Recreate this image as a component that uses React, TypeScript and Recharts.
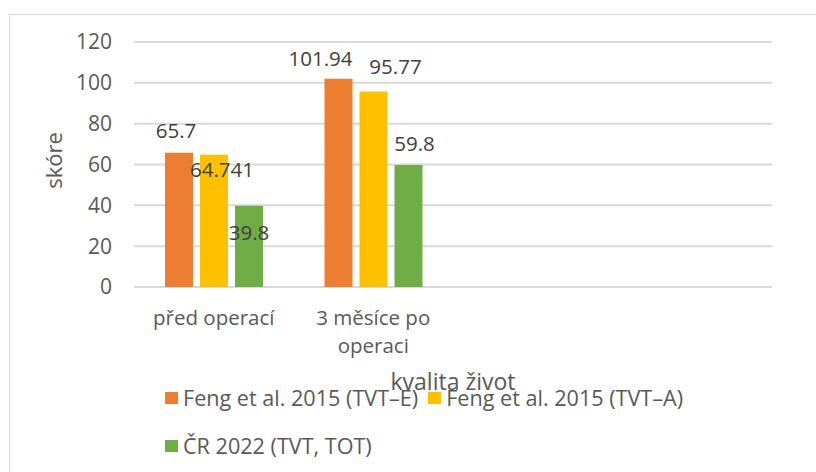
import { BarChart, Bar, XAxis, YAxis, CartesianGrid, LabelList } from 'recharts';

const categories = ['před operací', '3 měsíce po operaci', '', ''];
const tvtE = [65.7, 101.94, null, null];
const tvtA = [64.741, 95.77, null, null];
const cr2022 = [39.8, 59.8, null, null];
const yTicks = [0, 20, 40, 60, 80, 100, 120];

const series = [
  { key: 'tvtE', name: 'Feng et al. 2015 (TVT–E)', color: '#ED7D31' },
  { key: 'tvtA', name: 'Feng et al. 2015 (TVT–A)', color: '#FFC000' },
  { key: 'cr2022', name: 'ČR 2022 (TVT, TOT)', color: '#70AD47' },
];

const data = categories.map((name, i) => ({
  name,
  tvtE: tvtE[i],
  tvtA: tvtA[i],
  cr2022: cr2022[i],
}));

const FONT = '"Open Sans", "Noto Sans", sans-serif';

// label nudges (dx from bar centre, dy from bar top), like the hand-placed excel labels
const labelNudge: Record<string, [number, number][]> = {
  tvtE: [[-3, -22], [-18, -20]],
  tvtA: [[8, 15], [22, -25]],
  cr2022: [[0, 27], [6, -21]],
};

const makeLabel = (key: string) => (props: any) => {
  const { x, y, width, value, index } = props;
  if (value == null) return null;
  const [dx, dy] = labelNudge[key][index] || [0, -20];
  return (
    <text
      x={Number(x) + Number(width) / 2 + dx}
      y={Number(y) + dy}
      dy="0.35em"
      textAnchor="middle"
      fill="#404040"
      fontSize={20.5}
      fontFamily={FONT}
    >
      {String(value)}
    </text>
  );
};

// simple greedy wrap, excel breaks the long category in two lines
const wrap = (s: string, max = 12) => {
  const lines: string[] = [];
  let cur = '';
  s.split(' ').forEach((w) => {
    if (cur && (cur + ' ' + w).length > max) {
      lines.push(cur);
      cur = w;
    } else {
      cur = cur ? cur + ' ' + w : w;
    }
  });
  if (cur) lines.push(cur);
  return lines;
};

const CategoryTick = (props: any) => {
  const { x, y, payload } = props;
  if (!payload.value) return null;
  return (
    <text x={x} y={y} textAnchor="middle" fill="#595959" fontSize={20.5} fontFamily={FONT}>
      {wrap(payload.value).map((line, i) => (
        <tspan key={i} x={x} dy={i === 0 ? 13 : 28}>
          {line}
        </tspan>
      ))}
    </text>
  );
};

export default function App() {
  return (
    <div
      style={{
        position: 'absolute',
        left: 0,
        top: 0,
        width: 816,
        height: 472,
        overflow: 'hidden',
        background: '#fff',
        fontFamily: FONT,
      }}
    >
      <div
        style={{
          position: 'absolute',
          left: 9,
          top: 14,
          width: 900,
          height: 600,
          border: '1.5px solid #d9d9d9',
        }}
      />
      <div style={{ position: 'absolute', left: 0, top: 0 }}>
        <BarChart
          width={816}
          height={472}
          data={data}
          margin={{ top: 42, right: 44, left: 0, bottom: 0 }}
          barSize={28}
          barGap={7}
        >
          <CartesianGrid vertical={false} stroke="#d9d9d9" strokeWidth={2} />
          <XAxis
            dataKey="name"
            height={185}
            axisLine={false}
            tickLine={false}
            tickSize={0}
            tickMargin={25}
            interval={0}
            tick={<CategoryTick />}
            label={{
              value: 'kvalita život',
              content: (p: any) => (
                <text
                  x={p.viewBox.x + p.viewBox.width / 2}
                  y={p.viewBox.y + 103}
                  textAnchor="middle"
                  fill="#595959"
                  fontSize={23}
                  fontFamily={FONT}
                >
                  kvalita život
                </text>
              ),
            }}
          />
          <YAxis
            width={134}
            domain={[0, 120]}
            ticks={yTicks}
            axisLine={false}
            tickLine={false}
            tickSize={0}
            tickMargin={22}
            tick={{ fill: '#595959', fontSize: 21, fontFamily: FONT }}
            label={{
              value: 'skóre',
              content: (p: any) => {
                const cy = p.viewBox.y + p.viewBox.height / 2 - 4;
                return (
                  <text
                    x={62}
                    y={cy}
                    transform={`rotate(-90, 62, ${cy})`}
                    textAnchor="middle"
                    fill="#595959"
                    fontSize={22}
                    fontFamily={FONT}
                  >
                    skóre
                  </text>
                );
              },
            }}
          />
          {series.map((s) => (
            <Bar key={s.key} dataKey={s.key} name={s.name} fill={s.color} isAnimationActive={false}>
              <LabelList dataKey={s.key} content={makeLabel(s.key)} />
            </Bar>
          ))}
        </BarChart>
      </div>
      <div
        style={{
          position: 'absolute',
          left: 165,
          top: 373,
          width: 560,
          display: 'flex',
          flexWrap: 'wrap',
          lineHeight: '46px',
          fontSize: 21.6,
          color: '#595959',
        }}
      >
        {series.map((s) => (
          <span key={s.key} style={{ marginRight: 10, whiteSpace: 'nowrap' }}>
            <span
              style={{
                display: 'inline-block',
                width: 13,
                height: 12,
                background: s.color,
                marginRight: 5,
                verticalAlign: 'middle',
              }}
            />
            <span style={{ verticalAlign: 'middle' }}>{s.name}</span>
          </span>
        ))}
      </div>
    </div>
  );
}
